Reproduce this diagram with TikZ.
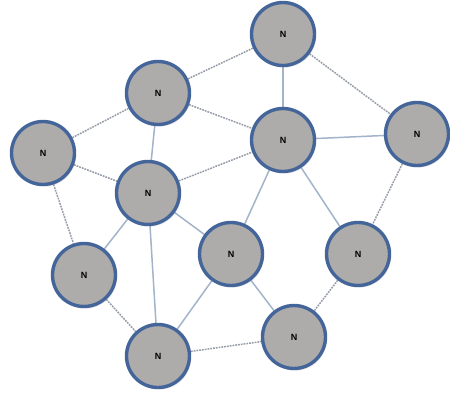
\documentclass[tikz,border=0pt]{standalone}
\usepackage{fontspec}
\setmainfont{Liberation Sans}
\usetikzlibrary{shadows,backgrounds}
\definecolor{ring}{HTML}{44659A}
\definecolor{nfill}{HTML}{AEACAA}
\definecolor{solidedge}{HTML}{A3B3CA}
\definecolor{dashedge}{HTML}{969DA8}
\begin{document}
\begin{tikzpicture}[x=1pt,y=-1pt,
  netnode/.style={circle,draw=ring,line width=3.4pt,fill=nfill,minimum size=63pt,inner sep=0pt,
    font=\bfseries\fontsize{9}{9}\selectfont,
    drop shadow={opacity=0.2,shadow xshift=1.5pt,shadow yshift=-2pt}},
  solidlink/.style={draw=solidedge,line width=1.5pt},
  dashlink/.style={draw=dashedge,line width=1.5pt,dash pattern=on 1.8pt off 1pt}]
\useasboundingbox (0,0) rectangle (450,396);
\node[netnode] (A) at (283,34) {N};
\node[netnode] (B) at (158,93) {N};
\node[netnode] (C) at (283,140) {N};
\node[netnode] (D) at (417,134) {N};
\node[netnode] (E) at (43,153) {N};
\node[netnode] (F) at (148,193) {N};
\node[netnode] (G) at (231,254) {N};
\node[netnode] (H) at (358,254) {N};
\node[netnode] (I) at (84,275) {N};
\node[netnode] (J) at (158,356) {N};
\node[netnode] (K) at (294,337) {N};
\begin{scope}[on background layer]
\draw[dashlink] (B) -- (A);
\draw[solidlink] (A) -- (C);
\draw[dashlink] (A) -- (D);
\draw[dashlink] (B) -- (C);
\draw[solidlink] (C) -- (D);
\draw[dashlink] (E) -- (B);
\draw[dashlink] (E) -- (F);
\draw[solidlink] (B) -- (F);
\draw[dashlink] (F) -- (C);
\draw[solidlink] (C) -- (G);
\draw[solidlink] (C) -- (H);
\draw[dashlink] (D) -- (H);
\draw[dashlink] (E) -- (I);
\draw[solidlink] (F) -- (I);
\draw[solidlink] (F) -- (J);
\draw[solidlink] (F) -- (G);
\draw[solidlink] (G) -- (J);
\draw[solidlink] (G) -- (K);
\draw[dashlink] (I) -- (J);
\draw[dashlink] (J) -- (K);
\draw[dashlink] (H) -- (K);
\end{scope}
\end{tikzpicture}
\end{document}
